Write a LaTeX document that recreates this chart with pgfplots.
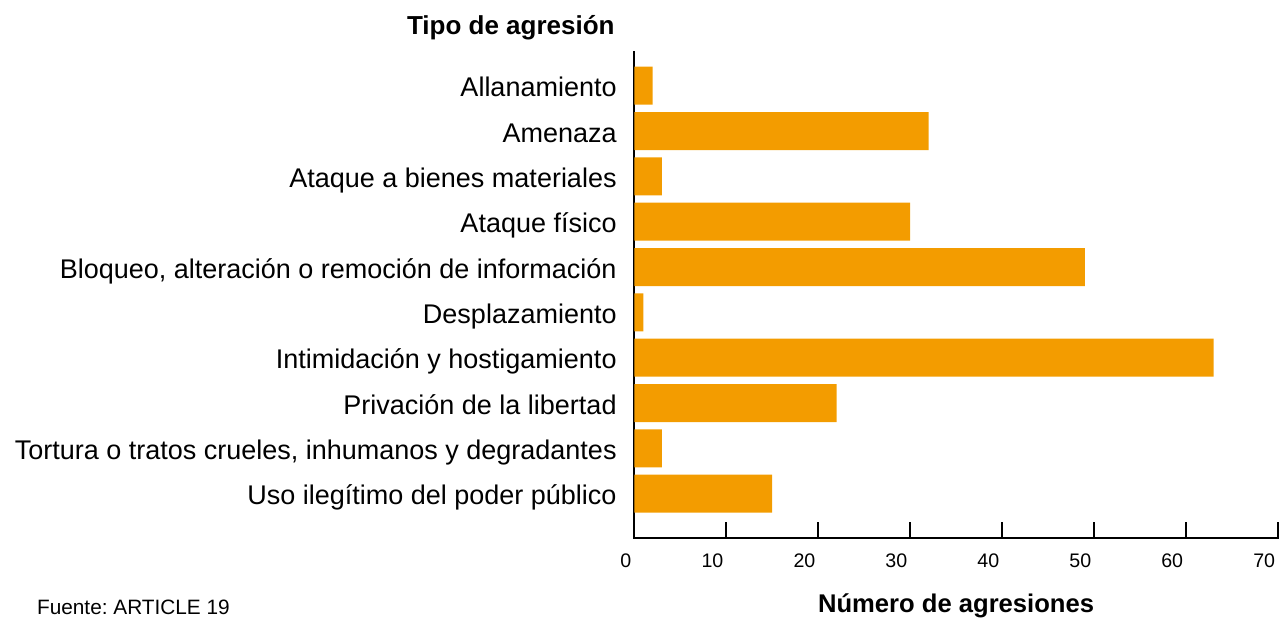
\documentclass[border=0pt]{standalone}
\usepackage{pgfplots}
\pgfplotsset{compat=1.18}
\usepackage{fontspec}
\setmainfont{Liberation Sans}
\frenchspacing
\definecolor{barorange}{HTML}{F39C00}
\begin{document}
\begin{tikzpicture}
\begin{axis}[
  name=ax, at={(0,0)}, anchor=south west,
  scale only axis,
  width=321.85pt, height=243.65pt,
  xbar, bar width=19pt,
  xmin=0, xmax=70, xtick={0,10,...,70},
  ymin=-0.977, ymax=9.772,
  ytick={0,...,9},
  yticklabels={Uso ilegítimo del poder público,
    {Tortura o tratos crueles, inhumanos y degradantes}, Privación de la libertad,
    Intimidación y hostigamiento, Desplazamiento,
    {Bloqueo, alteración o remoción de información}, Ataque físico,
    Ataque a bienes materiales, Amenaza, Allanamiento},
  axis x line*=bottom, axis y line*=left,
  axis line style={line width=1pt, black},
  x axis line style={line width=1.2pt, black},
  x tick style={line width=0.9pt, black},
  major tick length=8pt,
  tick align=inside,
  y tick style={draw=none},
  /pgf/number format/assume math mode=true,
  xticklabel style={font=\fontsize{9.8}{11}\selectfont, anchor=base east, inner sep=0pt, xshift=-1.25pt, yshift=-14.65pt},
  yticklabel style={font=\fontsize{13.5}{16}\selectfont, anchor=base east, inner sep=0pt, xshift=-8.65pt, yshift=-5.5pt},
  clip=false,
]
% valores de abajo hacia arriba
\addplot[fill=barorange, draw=none] coordinates {
  (15,0) (3,1) (22,2) (63,3) (1,4) (49,5) (30,6) (3,7) (32,8) (2,9)
};
\end{axis}
% linea del eje x
\draw[line width=1.2pt, black] (-0.5pt,0pt) -- (322.35pt,0pt);
\node[anchor=base east, inner sep=0pt, font=\fontsize{13}{15}\selectfont\bfseries] at (-9.65pt,251.5pt) {Tipo de agresión};
\node[anchor=base, inner sep=0pt, font=\fontsize{12.8}{15}\selectfont\bfseries] at (160.9pt,-37.35pt) {Número de agresiones};
\node[anchor=base west, inner sep=0pt, font=\fontsize{10.4}{12}\selectfont] at (-298.8pt,-38.15pt) {Fuente: ARTICLE 19};
\pgfresetboundingbox
\path (-317.15pt,-41.5pt) rectangle (322.35pt,269pt);
\end{tikzpicture}
\end{document}
